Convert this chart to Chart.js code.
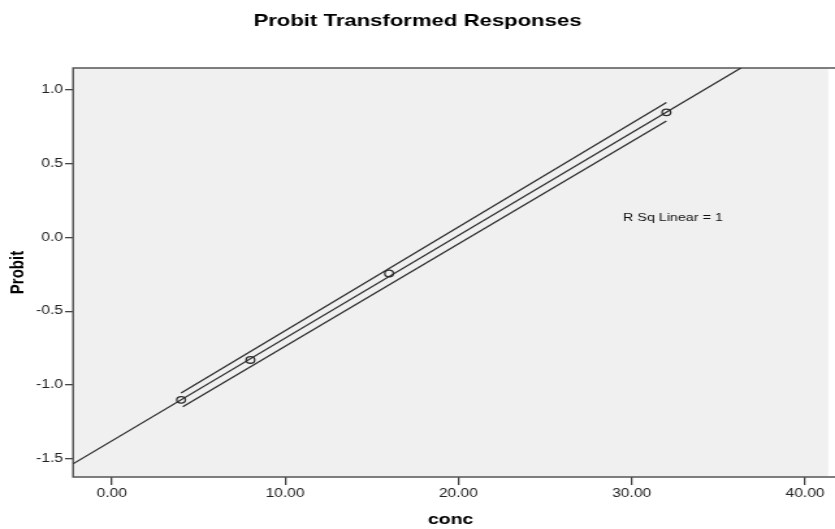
<!DOCTYPE html>
<html>
<head>
<meta charset="utf-8">
<script src="https://cdn.jsdelivr.net/npm/chart.js@4/dist/chart.umd.min.js"></script>
<style>
  html, body { margin: 0; padding: 0; background: #fff; overflow: hidden; }
  /* the reference picture is stretched sideways, so the chart is too */
  #wrap { width: 642px; height: 529px; transform: scale(1.3006, 1); transform-origin: 0 0; }
</style>
</head>
<body>
<div id="wrap"><canvas id="grafikProbit" width="642" height="529"></canvas></div>
<script>
const CONC = [4, 8, 16, 32];
const PROBIT = [-1.10, -0.83, -0.245, 0.845];

// fit line and the two bound lines
const FIT_X = [-2.23, 36.3];
const FIT_Y = [-1.533, 1.145];
const UPPER_X = [4, 32];
const UPPER_Y = [-1.053, 0.911];
const LOWER_X = [4.1, 32];
const LOWER_Y = [-1.146, 0.787];

const X_TICKS = [0, 10, 20, 30, 40];
const Y_TICKS = [-1.5, -1.0, -0.5, 0.0, 0.5, 1.0];
const RSQ_TEXT = 'R Sq Linear = 1';

const FONT = "'Liberation Sans', Arial, sans-serif";
const INK = '#2e2e2e';

function pairs(xs, ys) {
    return xs.map((x, i) => ({ x: x, y: ys[i] }));
}

const plotFrame = {
    id: 'plotFrame',
    beforeDraw(chart) {
        const { ctx, chartArea: a } = chart;
        ctx.save();
        ctx.fillStyle = '#fff';
        ctx.fillRect(0, 0, chart.width, chart.height);
        ctx.fillStyle = '#f0f0f0';
        ctx.fillRect(a.left, a.top, a.right - a.left, a.bottom - a.top);
        ctx.restore();
    },
    beforeDatasetsDraw(chart) {
        const { ctx, chartArea: a } = chart;
        ctx.save();
        ctx.strokeStyle = '#555';
        ctx.lineWidth = 1.5;
        ctx.beginPath();
        ctx.moveTo(chart.width + 2, a.top);
        ctx.lineTo(a.left, a.top);
        ctx.lineTo(a.left, a.bottom);
        ctx.lineTo(chart.width + 2, a.bottom);
        ctx.stroke();
        ctx.restore();
    },
    afterDatasetsDraw(chart) {
        const { ctx, scales } = chart;
        ctx.save();
        ctx.fillStyle = '#111';
        ctx.font = '11px ' + FONT;
        ctx.textAlign = 'left';
        ctx.textBaseline = 'middle';
        ctx.fillText(RSQ_TEXT, scales.x.getPixelForValue(29.5), scales.y.getPixelForValue(0.13));
        ctx.restore();
    }
};

const ctx = document.getElementById('grafikProbit').getContext('2d');

new Chart(ctx, {
    type: 'scatter',
    data: {
        datasets: [
            {
                label: 'Fit',
                data: pairs(FIT_X, FIT_Y),
                showLine: true,
                pointRadius: 0,
                borderColor: INK,
                borderWidth: 1.3
            },
            {
                label: 'Upper',
                data: pairs(UPPER_X, UPPER_Y),
                showLine: true,
                pointRadius: 0,
                borderColor: INK,
                borderWidth: 1.3
            },
            {
                label: 'Lower',
                data: pairs(LOWER_X, LOWER_Y),
                showLine: true,
                pointRadius: 0,
                borderColor: INK,
                borderWidth: 1.3
            },
            {
                label: 'Probit',
                data: pairs(CONC, PROBIT),
                pointRadius: 3.3,
                pointBorderWidth: 1.3,
                borderColor: INK,
                backgroundColor: 'rgba(0,0,0,0)'
            }
        ]
    },
    plugins: [plotFrame],
    options: {
        responsive: false,
        animation: false,
        layout: { padding: 0 },
        plugins: {
            legend: { display: false },
            tooltip: { enabled: false },
            title: {
                display: true,
                text: 'Probit Transformed Responses',
                color: '#000',
                font: { family: FONT, size: 17, weight: 'bold' },
                padding: { top: 11, bottom: 36.6 }
            }
        },
        scales: {
            x: {
                type: 'linear',
                min: -2.23,
                max: 41.33,
                afterBuildTicks: function(scale) {
                    scale.ticks = X_TICKS.map(v => ({ value: v }));
                },
                afterFit: function(scale) {
                    scale.height = 52;
                },
                grid: { drawOnChartArea: false, drawTicks: true, tickLength: 8, color: '#444', lineWidth: 1.3 },
                border: { display: false },
                ticks: {
                    padding: 1,
                    color: '#222',
                    font: { family: FONT, size: 12 },
                    callback: function(v) { return Number(v).toFixed(2); }
                },
                title: {
                    display: true,
                    text: 'conc',
                    color: '#000',
                    font: { family: FONT, size: 15, weight: 'bold' },
                    padding: { top: 0, bottom: 0 }
                }
            },
            y: {
                type: 'linear',
                min: -1.622,
                max: 1.145,
                afterBuildTicks: function(scale) {
                    scale.ticks = Y_TICKS.map(v => ({ value: v }));
                },
                afterFit: function(scale) {
                    scale.width = 56.2;
                },
                grid: { drawOnChartArea: false, drawTicks: true, tickLength: 6.2, color: '#444', lineWidth: 1.3 },
                border: { display: false },
                ticks: {
                    padding: 1.5,
                    color: '#222',
                    font: { family: FONT, size: 12 },
                    callback: function(v) { return Number(v).toFixed(1); }
                },
                title: {
                    display: true,
                    text: 'Probit',
                    color: '#000',
                    font: { family: FONT, size: 15, weight: 'bold' },
                    padding: { top: 5.2, bottom: 0 }
                }
            }
        }
    }
});
</script>
</body>
</html>
